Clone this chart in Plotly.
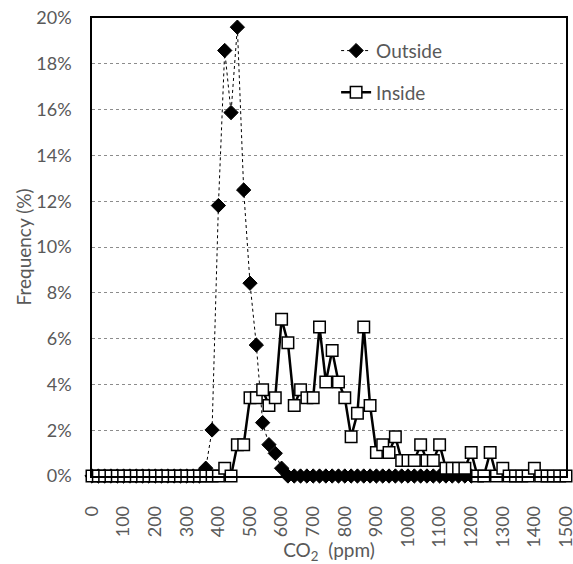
import plotly.graph_objects as go

# CO2 bins (ppm), 20 ppm wide
co2_bins = list(range(0, 1501, 20))

# Frequency (%)
outside_freq = [
    0, 0, 0, 0, 0, 0, 0, 0, 0, 0,          # 0-180
    0, 0, 0, 0, 0, 0, 0, 0,                # 200-340
    0.34, 2.01, 11.81, 18.58, 15.87, 19.60, 12.49, 8.42, 5.72, 2.33,  # 360-540
    1.37, 0.99, 0.34,                      # 560-600
    0, 0, 0, 0, 0, 0, 0, 0, 0, 0,          # 620-800
    0, 0, 0, 0, 0, 0, 0, 0, 0, 0,          # 820-1000
    0, 0, 0, 0, 0, 0, 0, 0, 0, 0,          # 1020-1200
    None, None, None, None, None, None, None, None, None, None,
    None, None, None, None, None,
]

inside_freq = [
    0, 0, 0, 0, 0, 0, 0, 0, 0, 0,          # 0-180
    0, 0, 0, 0, 0, 0, 0, 0, 0, 0,          # 200-380
    0,                                     # 400
    0.34, 0, 1.37, 1.37, 3.42, 3.42, 3.77, 3.08, 3.42, 6.85,   # 420-600
    5.82, 3.08, 3.77, 3.42, 3.42, 6.51, 4.11, 5.48, 4.11, 3.42,  # 620-800
    1.71, 2.74, 6.51, 3.08, 1.03, 1.37, 1.03, 1.71, 0.68, 0.68,  # 820-1000
    0.68, 1.37, 0.68, 0.68, 1.37, 0.34, 0.34, 0.34, 0.34, 1.03,  # 1020-1200
    0, 0, 1.03, 0, 0.34, 0, 0, 0, 0, 0.34,                       # 1220-1400
    0, 0, 0, 0, 0,                                               # 1420-1500
]

x_ticks = list(range(0, 1501, 100))
y_ticks = list(range(0, 21, 2))
y_tick_text = [f"{v}%" for v in y_ticks]

FONT = "Lato, 'Open Sans', sans-serif"
GREY = "#595959"

fig = go.Figure()

fig.add_trace(go.Scatter(
    x=co2_bins, y=outside_freq, name="Outside", mode="lines+markers",
    line=dict(color="black", width=1, dash="dot"),
    marker=dict(symbol="diamond", size=11, color="black", line=dict(color="black", width=1)),
    cliponaxis=False, legendgroup="a",
))
fig.add_trace(go.Scatter(
    x=co2_bins, y=inside_freq, name="Inside", mode="lines+markers",
    line=dict(color="black", width=2.5),
    marker=dict(symbol="square", size=11.5, color="white", line=dict(color="black", width=1.5)),
    cliponaxis=False, legendgroup="b",
))

fig.update_layout(
    width=573, height=564,
    margin=dict(l=92, r=7, t=18, b=88, autoexpand=False),
    paper_bgcolor="white", plot_bgcolor="white",
    font=dict(family=FONT, size=18, color=GREY),
    showlegend=True,
    legend=dict(
        x=0.515, y=0.97, xanchor="left", yanchor="top",
        bgcolor="rgba(0,0,0,0)", borderwidth=0,
        font=dict(family=FONT, size=19, color=GREY),
        traceorder="grouped", tracegroupgap=14,
    ),
    xaxis=dict(
        range=[0, 1500], tickmode="array", tickvals=x_ticks,
        ticktext=[str(v) for v in x_ticks], tickangle=-90,
        showgrid=False, zeroline=False, automargin=False,
        showline=True, linecolor="black", linewidth=1.5, mirror=True,
        ticks="", ticklabelstandoff=21, ticklabeloverflow="allow",
        tickfont=dict(family=FONT, size=18, color=GREY),
        title=dict(text="CO<sub>2</sub>\u00a0 (ppm)", standoff=2,
                   font=dict(family=FONT, size=19, color=GREY)),
    ),
    yaxis=dict(
        range=[0, 20], tickmode="array", tickvals=y_ticks, ticktext=y_tick_text,
        showgrid=True, gridcolor="#8c8c8c", gridwidth=1, griddash="dot",
        zeroline=False, automargin=False,
        showline=True, linecolor="black", linewidth=1.5, mirror=True,
        ticks="", ticklabelstandoff=15, ticklabeloverflow="allow",
        tickfont=dict(family=FONT, size=18, color=GREY),
        title=dict(text="Frequency (%)", standoff=0,
                   font=dict(family=FONT, size=19, color=GREY)),
    ),
)

fig.write_html(
    "out.html",
    config={"displayModeBar": False},
    post_script="document.body.style.margin='0';document.body.style.overflow='hidden';",
)
